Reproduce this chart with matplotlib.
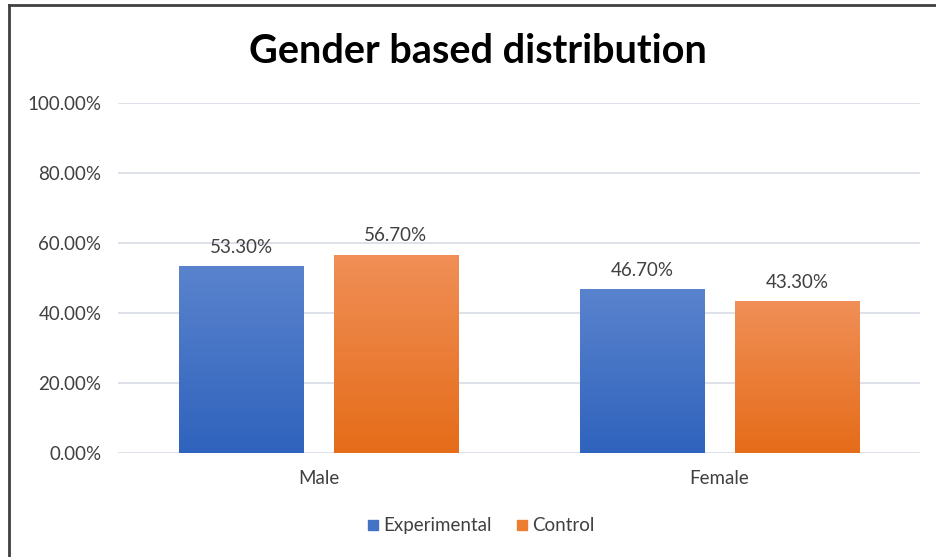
import numpy as np
import matplotlib.pyplot as plt
from matplotlib.colors import LinearSegmentedColormap
from matplotlib.lines import Line2D
from matplotlib.patches import Rectangle

# Données du graphique
categories = ["Male", "Female"]
experimental = [53.3, 46.7]
control = [56.7, 43.3]
series_names = ["Experimental", "Control"]
yticks = [0, 20, 40, 60, 80, 100]

plt.rcParams['font.family'] = ['Lato', 'DejaVu Sans']

fig = plt.figure(figsize=(9.36, 5.57), dpi=100)
ax = fig.add_axes([0.126, 0.187, 0.857, 0.628])

x = np.arange(len(categories))
width = 0.31
offset = 0.193

# Dégradés façon Excel (haut clair -> bas foncé)
blue_cmap = LinearSegmentedColormap.from_list("b", ["#2F63BD", "#5A83CD"])
orange_cmap = LinearSegmentedColormap.from_list("o", ["#E56C19", "#F08F57"])
grad = np.linspace(0, 1, 256).reshape(-1, 1)


def gradient_bars(xpos, values, cmap):
    bars = ax.bar(xpos, values, width, color="none", edgecolor="none", zorder=3)
    for b in bars:
        x0, y0 = b.get_x(), b.get_y()
        w, h = b.get_width(), b.get_height()
        im = ax.imshow(grad, cmap=cmap, origin="lower", aspect="auto",
                       extent=[x0, x0 + w, y0, y0 + h], zorder=3)
        clip = Rectangle((x0, y0), w, h, transform=ax.transData)
        im.set_clip_path(clip)
    return bars


b1 = gradient_bars(x - offset, experimental, blue_cmap)
b2 = gradient_bars(x + offset, control, orange_cmap)

for bars, vals in [(b1, experimental), (b2, control)]:
    for b, v in zip(bars, vals):
        ax.text(b.get_x() + b.get_width() / 2, v + 3.0, f"{v:.2f}%",
                ha="center", va="bottom", fontsize=13.5, color="#404040", zorder=4)

ax.set_xlim(-0.5, 1.5)
ax.set_ylim(0, 100)
ax.set_yticks(yticks)
ax.set_yticklabels([f"{t:.2f}%" for t in yticks], fontsize=13.5, color="#404040")
ax.set_xticks(x)
ax.set_xticklabels(categories, fontsize=13.5, color="#404040")
ax.tick_params(length=0, pad=12)
ax.tick_params(axis="x", pad=12)
ax.grid(axis="y", color="#D9DCE6", linewidth=1.2, zorder=0)
ax.set_axisbelow(True)
for s in ax.spines.values():
    s.set_visible(False)

fig.text(0.511, 0.907, "Gender based distribution", ha="center", va="center",
         fontsize=28.5, fontweight="bold", color="black")

handles = [Line2D([], [], marker="s", linestyle="none", markersize=7,
                  color=c) for c in ["#4472C4", "#ED7D31"]]
fig.legend(handles, series_names, loc="center", bbox_to_anchor=(0.514, 0.056),
           ncol=2, frameon=False, fontsize=13.5, handlelength=0.6,
           handletextpad=0.25, columnspacing=1.3, labelcolor="#404040")

# Cadre partiel (haut et gauche visibles)
fig.add_artist(Line2D([0.0096, 0.0096], [0, 0.991], transform=fig.transFigure,
                      color="#404040", linewidth=2))
fig.add_artist(Line2D([0.0096, 1.0], [0.991, 0.991], transform=fig.transFigure,
                      color="#404040", linewidth=2))

fig.savefig("out.png", dpi=100)
